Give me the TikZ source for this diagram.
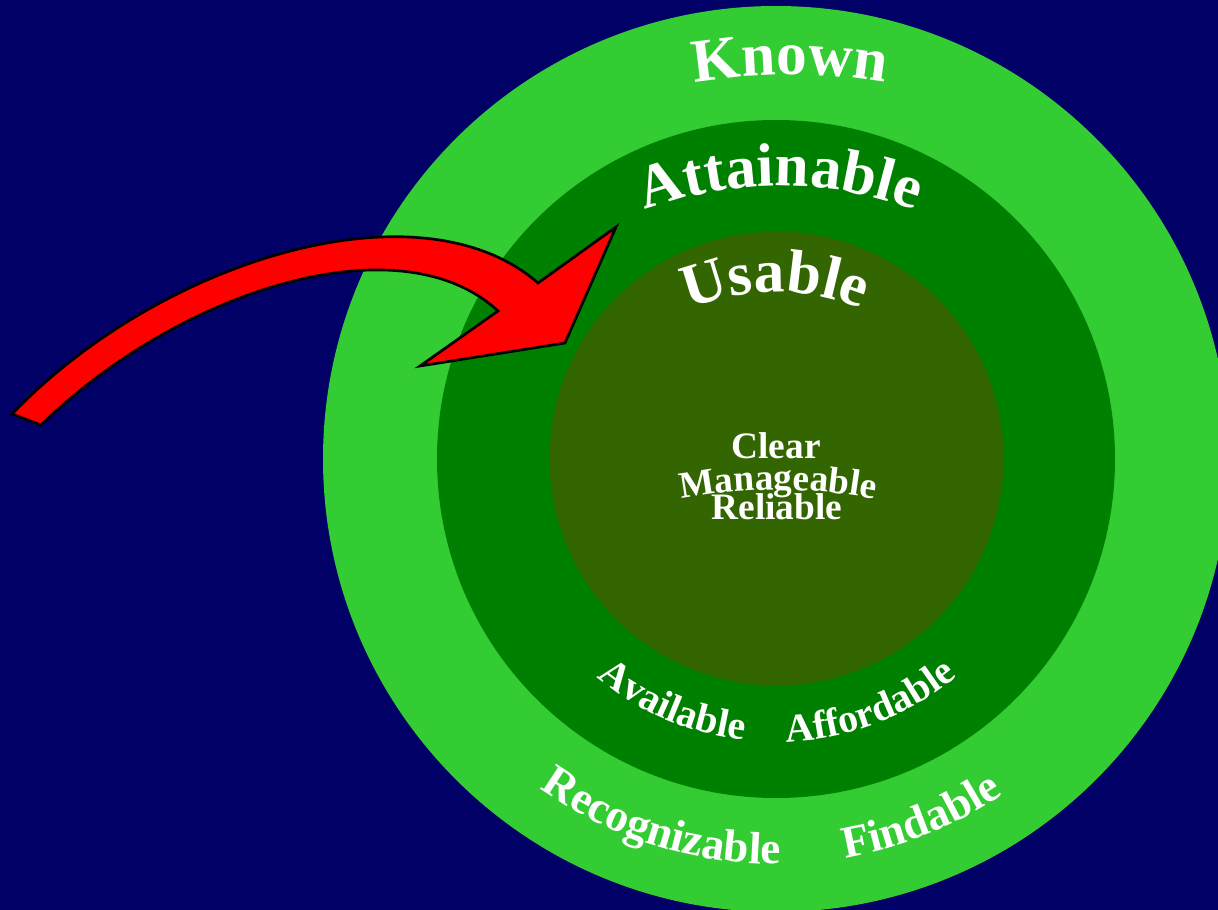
\documentclass[tikz,border=0pt]{standalone}
\usepackage{fontspec}
\setmainfont{Liberation Serif}
\usetikzlibrary{calc,decorations.text}

\definecolor{navyback}{RGB}{0,0,102}
\definecolor{knownring}{RGB}{51,204,51}
\definecolor{attainring}{RGB}{0,128,0}
\definecolor{usablecore}{RGB}{51,102,0}

\newcommand{\bigword}{\fontsize{46}{46}\selectfont\bfseries}
\newcommand{\ringword}{\fontsize{34}{34}\selectfont\bfseries}
\newcommand{\bandword}{\fontsize{30}{30}\selectfont\bfseries}
\newcommand{\coreword}{\fontsize{28}{28}\selectfont\bfseries}

\begin{document}
\begin{tikzpicture}[x=0.75pt,y=0.75pt,yscale=-1,xscale=1,
  arcword/.style 2 args={decorate,decoration={text along path,text={|#1|#2},text align=center,text color=white}},
  coretext/.style={inner sep=0pt,anchor=base,text=white,font=\coreword}]
\useasboundingbox (0,0) rectangle (1218,910);
\clip (0,0) rectangle (1218,910);
\fill[navyback] (0,0) rectangle (1218,910);

%Shape: Circle [Known]
\fill[knownring] (776,459) circle [radius=453];
%Shape: Circle [Attainable]
\fill[attainring] (776,459) circle [radius=339];
%Shape: Circle [Usable]
\fill[usablecore] (776.5,458.5) circle [radius=227];

% Curved words over the top
\path[arcword={\bigword}{Known}] ($(790,657)+(-105:582)$) arc[start angle=-105,end angle=-75,radius=582];
\path[arcword={\bigword}{Attainable}] ($(780,576)+(-118:390)$) arc[start angle=-118,end angle=-62,radius=390];
\path[arcword={\bigword}{Usable}] ($(775,515)+(-130:223)$) arc[start angle=-130,end angle=-50,radius=223];

% Curved words along the bottom
\path[arcword={\bandword}{Available}] ($(776,459)+(133:283)$) arc[start angle=133,end angle=93,radius=283];
\path[arcword={\bandword}{Affordable}] ($(776,459)+(89:283)$) arc[start angle=89,end angle=49,radius=283];
\path[arcword={\ringword}{Recognizable}] ($(776,459)+(130:405)$) arc[start angle=130,end angle=85,radius=405];
\path[arcword={\ringword}{Findable}] ($(776,459)+(86:405)$) arc[start angle=86,end angle=50,radius=405];

% Text Node
\node[coretext] (clear) at (776,458) {Clear};
\path[arcword={\coreword}{Manageable}] ($(778,1006)+(-105:516)$) arc[start angle=-105,end angle=-75,radius=516];
% Text Node
\node[coretext] (reliable) at (777,519) {Reliable};

%Shape: Curved Arrow
\draw[black,line width=2pt,fill=red,line join=miter] (12,414) .. controls (160,260) and (420,180) .. (538,283) -- (616,227) -- (565,343) -- (420,366) -- (498,311) .. controls (400,220) and (180,290) .. (41,425) -- cycle;

\end{tikzpicture}
\end{document}
